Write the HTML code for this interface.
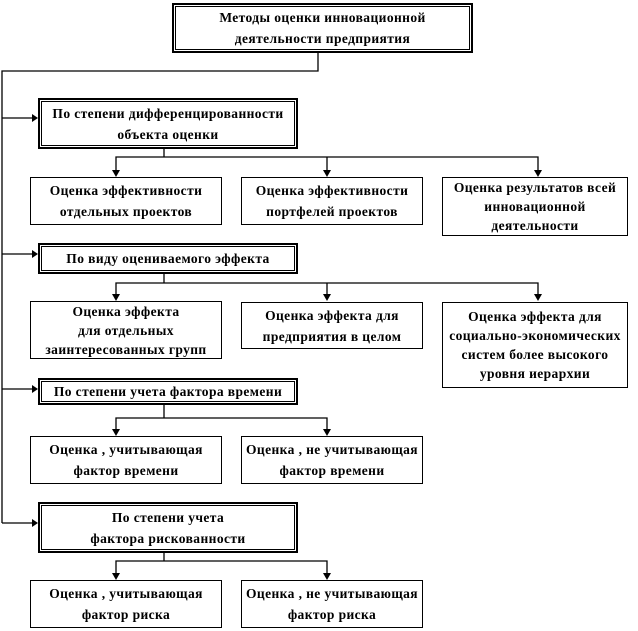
<!DOCTYPE html>
<html><head><meta charset="utf-8"><style>
html,body{margin:0;padding:0;background:#fff;}
body{width:638px;height:631px;position:relative;overflow:hidden;font-family:"Liberation Serif","DejaVu Serif",serif;font-weight:bold;font-size:13.5px;letter-spacing:0.4px;color:#000;}
.b{position:absolute;box-sizing:border-box;border:1px solid #000;display:flex;align-items:center;justify-content:center;text-align:center;line-height:21px;background:#fff;white-space:nowrap;}
.d{border:2px solid #000;box-shadow:inset 0 0 0 1px #fff,inset 0 0 0 2px #000;}
svg{position:absolute;left:0;top:0;}
</style></head><body>
<svg width="638" height="631">
<g stroke="#000" stroke-width="1.3" fill="none">
<polyline points="318,53 318,71 2,71 2,523"/>
<line x1="2" y1="118" x2="32" y2="118"/>
<line x1="2" y1="254" x2="32" y2="254"/>
<line x1="2" y1="389" x2="32" y2="389"/>
<line x1="2" y1="523" x2="32" y2="523"/>
<polyline points="164,148 164,157"/>
<polyline points="116,171 116,157 538,157 538,171"/>
<line x1="327" y1="157" x2="327" y2="171"/>
<polyline points="164,273 164,283"/>
<polyline points="116,295 116,283 538,283 538,295"/>
<line x1="327" y1="283" x2="327" y2="295"/>
<polyline points="164,404 164,418"/>
<polyline points="116,430 116,418 327,418 327,430"/>
<polyline points="164,553 164,561"/>
<polyline points="116,574 116,561 327,561 327,574"/>
</g>
<g fill="#000">
<polygon points="32,114 38,118 32,122"/>
<polygon points="32,250 38,254 32,258"/>
<polygon points="32,385 38,389 32,393"/>
<polygon points="32,519 38,523 32,527"/>
<polygon points="112,170 120,170 116,177"/>
<polygon points="323,170 331,170 327,177"/>
<polygon points="534,170 542,170 538,177"/>
<polygon points="112,294 120,294 116,301"/>
<polygon points="323,294 331,294 327,301"/>
<polygon points="534,294 542,294 538,301"/>
<polygon points="112,429 120,429 116,436"/>
<polygon points="323,429 331,429 327,436"/>
<polygon points="112,573 120,573 116,580"/>
<polygon points="323,573 331,573 327,580"/>
</g>
</svg>
<div class="b d" style="left:172px;top:3px;width:301px;height:50px;">Методы оценки инновационной<br>деятельности предприятия</div>
<div class="b d" style="left:38px;top:98px;width:260px;height:51px;">По степени дифференцированности<br>объекта оценки</div>
<div class="b" style="left:30px;top:177px;width:192px;height:48px;">Оценка эффективности<br>отдельных проектов</div>
<div class="b" style="left:241px;top:177px;width:182px;height:48px;">Оценка эффективности<br>портфелей проектов</div>
<div class="b" style="left:442px;top:177px;width:186px;height:59px;line-height:19px;">Оценка результатов всей<br>инновационной<br>деятельности</div>
<div class="b d" style="left:38px;top:243px;width:260px;height:31px;">По виду оцениваемого эффекта</div>
<div class="b" style="left:30px;top:301px;width:192px;height:58px;line-height:19px;">Оценка эффекта<br>для отдельных<br>заинтересованных групп</div>
<div class="b" style="left:241px;top:302px;width:182px;height:47px;">Оценка эффекта  для<br>предприятия в целом</div>
<div class="b" style="left:442px;top:302px;width:186px;height:86px;line-height:19px;">Оценка эффекта  для<br>социально-экономических<br>систем более высокого<br>уровня иерархии</div>
<div class="b d" style="left:38px;top:378px;width:260px;height:27px;">По степени учета фактора времени</div>
<div class="b" style="left:30px;top:436px;width:192px;height:48px;">Оценка , учитывающая<br>фактор времени</div>
<div class="b" style="left:241px;top:436px;width:182px;height:48px;">Оценка , не учитывающая<br>фактор времени</div>
<div class="b d" style="left:38px;top:502px;width:260px;height:51px;">По степени учета<br>фактора рискованности</div>
<div class="b" style="left:30px;top:580px;width:192px;height:48px;">Оценка , учитывающая<br>фактор риска</div>
<div class="b" style="left:241px;top:580px;width:182px;height:48px;">Оценка , не учитывающая<br>фактор риска</div>
</body></html>
